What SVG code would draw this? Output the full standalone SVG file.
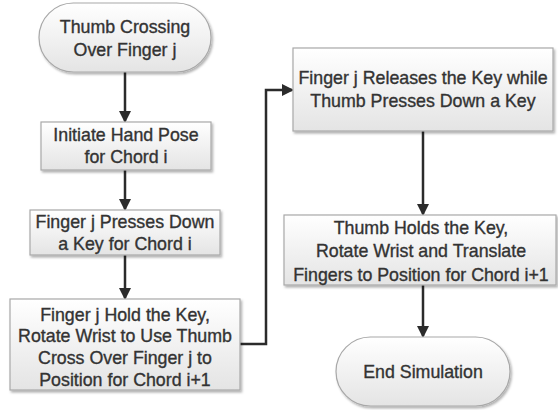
<svg xmlns="http://www.w3.org/2000/svg" width="558" height="410" viewBox="0 0 558 410">
<defs>
<linearGradient id="g" x1="0" y1="0" x2="0" y2="1">
<stop offset="0" stop-color="#ffffff"/>
<stop offset="1" stop-color="#e4e4e4"/>
</linearGradient>
<filter id="sh" x="-10%" y="-10%" width="120%" height="130%">
<feDropShadow dx="1.5" dy="2" stdDeviation="1.2" flood-color="#000" flood-opacity="0.3"/>
</filter>
<marker id="ah" markerWidth="12" markerHeight="12" refX="10" refY="6" orient="auto" markerUnits="userSpaceOnUse">
<path d="M0,0 L12,6 L0,12 Z" fill="#2b2b2b"/>
</marker>
</defs>
<style>
.n{fill:url(#g);stroke:#a8a8a8;stroke-width:1.2;filter:url(#sh)}
.t{font-family:"Liberation Sans",Arial,sans-serif;font-size:17.8px;fill:#333;stroke:#333;stroke-width:0.35;text-anchor:middle}
.c{fill:none;stroke:#2b2b2b;stroke-width:2.5;marker-end:url(#ah)}
</style>
<rect width="558" height="410" fill="#fff"/>
<g id="connectors">
<path class="c" d="M125,72 V121"/>
<path class="c" d="M125,170 V209"/>
<path class="c" d="M125,255 V298"/>
<path class="c" d="M240,344 H266 V90 H292"/>
<path class="c" d="M423,131 V214"/>
<path class="c" d="M423,285 V336"/>
</g>
<g id="start">
<rect class="n" x="39" y="3" width="172" height="69" rx="34.5"/>
<text class="t" x="125" y="33">Thumb Crossing</text>
<text class="t" x="125" y="56">Over Finger j</text>
</g>
<g id="initiate">
<rect class="n" x="41" y="122" width="170" height="48"/>
<text class="t" x="126" y="141">Initiate Hand Pose</text>
<text class="t" x="126" y="163">for Chord i</text>
</g>
<g id="press">
<rect class="n" x="30" y="210" width="190" height="45"/>
<text class="t" x="125" y="228">Finger j Presses Down</text>
<text class="t" x="125" y="250">a Key for Chord i</text>
</g>
<g id="hold">
<rect class="n" x="10" y="299" width="230" height="91"/>
<text class="t" x="125" y="321">Finger j Hold the Key,</text>
<text class="t" x="125" y="342">Rotate Wrist to Use Thumb</text>
<text class="t" x="125" y="364">Cross Over Finger j to</text>
<text class="t" x="125" y="386">Position for Chord i+1</text>
</g>
<g id="release">
<rect class="n" x="293" y="48" width="260" height="83"/>
<text class="t" x="423" y="84">Finger j Releases the Key while</text>
<text class="t" x="423" y="107">Thumb Presses Down a Key</text>
</g>
<g id="thumbholds">
<rect class="n" x="284" y="215" width="272" height="70"/>
<text class="t" x="421" y="234">Thumb Holds the Key,</text>
<text class="t" x="421" y="257">Rotate Wrist and Translate</text>
<text class="t" x="421" y="281">Fingers to Position for Chord i+1</text>
</g>
<g id="end">
<rect class="n" x="336" y="337" width="174" height="69" rx="34.5"/>
<text class="t" x="423" y="378">End Simulation</text>
</g>
</svg>
